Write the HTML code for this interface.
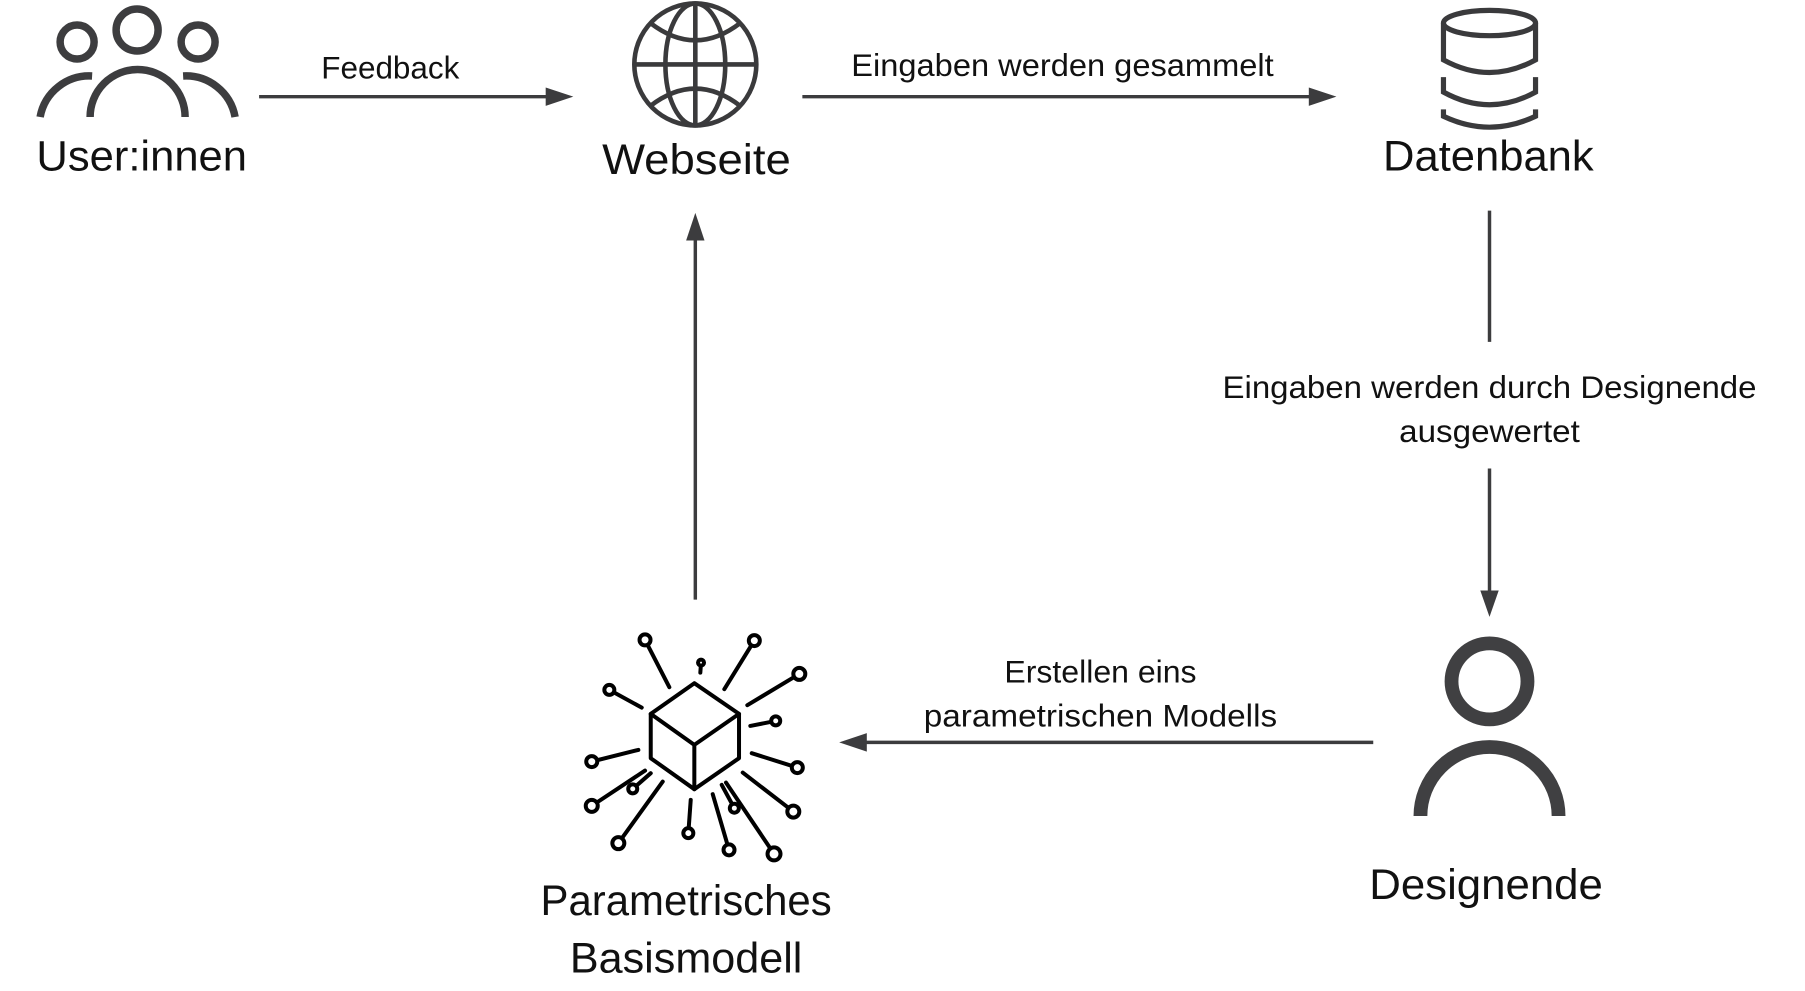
<!DOCTYPE html>
<html><head><meta charset="utf-8"><style>
html,body{margin:0;padding:0;background:#fff;}
svg{display:block;}
text{font-family:"Liberation Sans",sans-serif;fill:#111;}
</style></head><body>
<svg width="1805" height="991" viewBox="0 0 1568 861" xmlns="http://www.w3.org/2000/svg">
<!-- Users icon (original coords scaled) -->
<g transform="scale(0.8687)" fill="none" stroke="#3d3d3f" stroke-width="7.5">
<circle cx="77" cy="42" r="17"/>
<circle cx="137" cy="30" r="21"/>
<circle cx="198" cy="42" r="17"/>
<path d="M90 117 A47 47 0 0 1 185 117"/>
<path d="M40 117 A50 50 0 0 1 92 76"/>
<path d="M235 117 A50 50 0 0 0 183 76"/>
</g>
<!-- Globe -->
<g fill="none" stroke="#3a3a3c" stroke-width="4">
<ellipse cx="604" cy="56" rx="53" ry="53"/>
<ellipse cx="604" cy="56" rx="26" ry="53"/>
<line x1="604" y1="3" x2="604" y2="109"/>
<line x1="551" y1="56" x2="657" y2="56"/>
<path d="M565 20 Q604 50 643 20"/>
<path d="M565 92 Q604 62 643 92"/>
</g>
<!-- Database -->
<g fill="none" stroke="#3a3a3c" stroke-width="4.5">
<ellipse cx="1294" cy="20" rx="40" ry="11"/>
<path d="M1254 20 V52 Q1294 74 1334 52 V20"/>
<path d="M1254 67 V80 Q1294 102 1334 80 V67"/>
<path d="M1254 95 V101 Q1294 120 1334 101 V95"/>
</g>
<!-- Person -->
<g fill="none" stroke="#404042" stroke-width="12">
<circle cx="1294" cy="592" r="33"/>
<path d="M1234 709 A60 60 0 0 1 1354 709"/>
</g>
<!-- Cube -->
<g transform="scale(0.8687)" stroke="#000" stroke-width="4" fill="none" stroke-linecap="round">
<line x1="645" y1="640" x2="669.3" y2="687.3"/>
<line x1="754.3" y1="640.7" x2="724.3" y2="689.3"/>
<line x1="701" y1="662.7" x2="700.3" y2="672.7"/>
<line x1="799.3" y1="674" x2="747.3" y2="705.3"/>
<line x1="609.3" y1="690" x2="641.7" y2="707.7"/>
<line x1="775.7" y1="721" x2="750.3" y2="726"/>
<line x1="591.7" y1="761.7" x2="638.3" y2="750"/>
<line x1="797.3" y1="767.7" x2="751.7" y2="753.3"/>
<line x1="591.7" y1="806" x2="645" y2="770.7"/>
<line x1="632.7" y1="789" x2="650.7" y2="773.3"/>
<line x1="618.3" y1="843.3" x2="662.7" y2="781.7"/>
<line x1="688.3" y1="833.3" x2="690.7" y2="800"/>
<line x1="729" y1="850" x2="712.7" y2="794.3"/>
<line x1="734.3" y1="808.3" x2="721.7" y2="785"/>
<line x1="774" y1="854" x2="726" y2="782.7"/>
<line x1="793.3" y1="811.7" x2="742.7" y2="772.7"/>
<g fill="#fff">
<circle cx="645" cy="640" r="5.5"/>
<circle cx="754.3" cy="640.7" r="5.5"/>
<circle cx="701" cy="662.7" r="3"/>
<circle cx="799.3" cy="674" r="6"/>
<circle cx="609.3" cy="690" r="5"/>
<circle cx="775.7" cy="721" r="4.5"/>
<circle cx="591.7" cy="761.7" r="5.5"/>
<circle cx="797.3" cy="767.7" r="5.5"/>
<circle cx="591.7" cy="806" r="6"/>
<circle cx="632.7" cy="789" r="4.5"/>
<circle cx="618.3" cy="843.3" r="6"/>
<circle cx="688.3" cy="833.3" r="5"/>
<circle cx="729" cy="850" r="5.5"/>
<circle cx="734.3" cy="808.3" r="4.5"/>
<circle cx="774" cy="854" r="6.5"/>
<circle cx="793.3" cy="811.7" r="6"/>
</g>
<path d="M694.3 683.3 L739 714 L739 758.3 L694.3 789.3 L650.7 758.3 L650.7 714 Z" stroke-linejoin="round"/>
<path d="M650.7 714 L694.3 745 L739 714 M694.3 745 L694.3 789.3" stroke-linejoin="round"/>
</g>
<!-- Connectors -->
<g stroke="#3c3c3e" stroke-width="3" fill="none">
<line x1="225" y1="84" x2="480" y2="84"/>
<line x1="697" y1="84" x2="1142" y2="84"/>
<line x1="1294" y1="183" x2="1294" y2="297"/>
<line x1="1294" y1="407" x2="1294" y2="517"/>
<line x1="1193" y1="645" x2="748" y2="645"/>
<line x1="604" y1="521" x2="604" y2="205"/>
</g>
<g fill="#3c3c3e">
<polygon points="498,84 474,76 474,92"/>
<polygon points="1161,84 1137,76 1137,92"/>
<polygon points="1294,536 1286,513 1302,513"/>
<polygon points="729,645 753,637 753,653"/>
<polygon points="604,185 596,209 612,209"/>
</g>
<!-- Labels -->
<g font-size="27" text-anchor="middle">
<text x="339" y="68" textLength="120" lengthAdjust="spacingAndGlyphs">Feedback</text>
<text x="923" y="66" textLength="367" lengthAdjust="spacingAndGlyphs">Eingaben werden gesammelt</text>
<text x="1294" y="346" textLength="464" lengthAdjust="spacingAndGlyphs">Eingaben werden durch Designende</text>
<text x="1294" y="384" textLength="157" lengthAdjust="spacingAndGlyphs">ausgewertet</text>
<text x="956" y="593" textLength="167" lengthAdjust="spacingAndGlyphs">Erstellen eins</text>
<text x="956" y="631" textLength="307" lengthAdjust="spacingAndGlyphs">parametrischen Modells</text>
</g>
<g font-size="37" text-anchor="middle">
<text x="123" y="148" textLength="183" lengthAdjust="spacingAndGlyphs">User:innen</text>
<text x="605" y="151" textLength="164" lengthAdjust="spacingAndGlyphs">Webseite</text>
<text x="1293" y="148" textLength="183" lengthAdjust="spacingAndGlyphs">Datenbank</text>
<text x="1291" y="781" textLength="203" lengthAdjust="spacingAndGlyphs">Designende</text>
<text x="596" y="795" textLength="253" lengthAdjust="spacingAndGlyphs">Parametrisches</text>
<text x="596" y="845" textLength="202" lengthAdjust="spacingAndGlyphs">Basismodell</text>
</g>
</svg>
</body></html>
